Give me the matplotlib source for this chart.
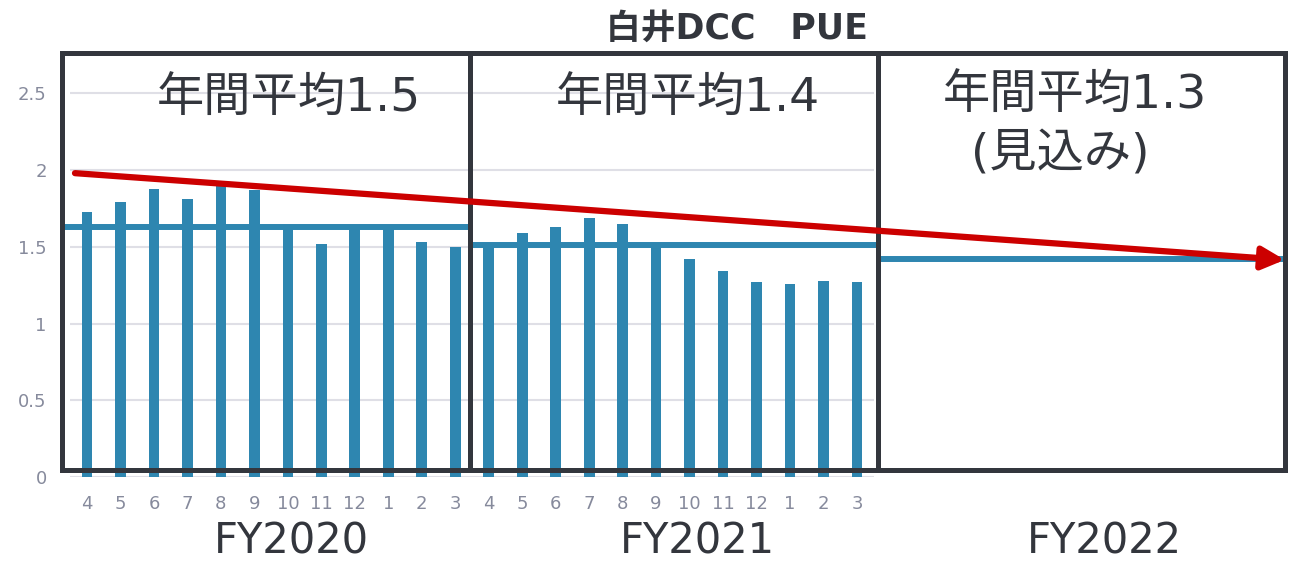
import matplotlib.pyplot as plt
import numpy as np

# DejaVu for latin (wide, Meiryo-like), Noto CJK for the Japanese glyphs
plt.rcParams['font.family'] = ['DejaVu Sans', 'Noto Sans CJK JP']

# monthly PUE, FY2020 (Apr-Mar) then FY2021 (Apr-Mar)
months = ['4', '5', '6', '7', '8', '9', '10', '11', '12', '1', '2', '3'] * 2
pue = [1.73, 1.79, 1.88, 1.81, 1.90, 1.87, 1.62, 1.52, 1.62, 1.62, 1.53, 1.50,
       1.51, 1.59, 1.63, 1.69, 1.65, 1.50, 1.42, 1.34, 1.27, 1.26, 1.28, 1.27]
year_labels = ['FY2020', 'FY2021', 'FY2022']
year_avg = [1.626, 1.513, 1.42]
trend_start = 1.98
trend_end = 1.415

bar_color = '#2E86B0'
box_color = '#33363D'
red = '#CC0000'
tick_gray = '#868A9C'

W, H = 1291, 566
fig = plt.figure(figsize=(W / 100, H / 100), dpi=100)
# axes placed in pixel terms: 24 slots from x=70 to 874, y=0 at 477
ax = fig.add_axes([70.3 / W, (H - 477) / H, (873.7 - 70.3) / W, (477 - 55) / H])
ax.set_xlim(-0.5, 23.5)
ax.set_ylim(0, 2.75)

x = np.arange(len(pue))
ax.bar(x, pue, width=0.32, color=bar_color, zorder=2)

ax.set_yticks([0, 0.5, 1, 1.5, 2, 2.5])
ax.set_yticklabels(['0', '0.5', '1', '1.5', '2', '2.5'])
ax.set_xticks(x)
ax.set_xticklabels(months)
ax.tick_params(axis='both', length=0, labelsize=13, labelcolor=tick_gray)
ax.tick_params(axis='y', pad=17)
ax.tick_params(axis='x', pad=13)
ax.grid(axis='y', color='#DFDFE6', lw=1.5, zorder=0)
for s in ax.spines.values():
    s.set_visible(False)

# year boxes and yearly average lines
edges = [-0.75, 11.45, 23.63, 35.8]
box_top, box_bot = 2.76, 0.045
for k in range(3):
    x0, x1 = edges[k], edges[k + 1]
    ax.plot([x0, x1, x1, x0, x0], [box_bot, box_bot, box_top, box_top, box_bot],
            color=box_color, lw=3.6, zorder=4, clip_on=False,
            solid_joinstyle='miter')
    ax.plot([x0 + 0.05, x1 - 0.05], [year_avg[k], year_avg[k]],
            color=bar_color, lw=4.3, zorder=3, clip_on=False)

# annotations inside boxes
big = 34
ax.text(6.03, 2.46, '年間平均1.5', ha='center', va='center', fontsize=big,
        color=box_color, zorder=5, clip_on=False)
ax.text(17.95, 2.46, '年間平均1.4', ha='center', va='center', fontsize=big,
        color=box_color, zorder=5, clip_on=False)
ax.text(29.5, 2.48, '年間平均1.3', ha='center', va='center', fontsize=big,
        color=box_color, zorder=5, clip_on=False)
ax.text(29.06, 2.10, '(見込み)', ha='center', va='center', fontsize=big,
        color=box_color, zorder=5, clip_on=False)

# fiscal year labels
for xc, lab in zip([6.12, 18.22, 30.4], year_labels):
    ax.text(xc, -0.4175, lab, ha='center', va='center', fontsize=30,
            color=box_color, clip_on=False)

ax.text(19.4, 2.92, '白井DCC\u3000PUE', ha='center', va='center', fontsize=25,
        fontweight='bold', color=box_color, clip_on=False)

# trend arrow
ax.annotate('', xy=(35.78, trend_end), xytext=(-0.36, trend_start),
            xycoords='data', annotation_clip=False,
            arrowprops=dict(arrowstyle='-|>', color=red, lw=4.5,
                            mutation_scale=34, shrinkA=0, shrinkB=0),
            zorder=6)

fig.savefig('out.png', dpi=100)
